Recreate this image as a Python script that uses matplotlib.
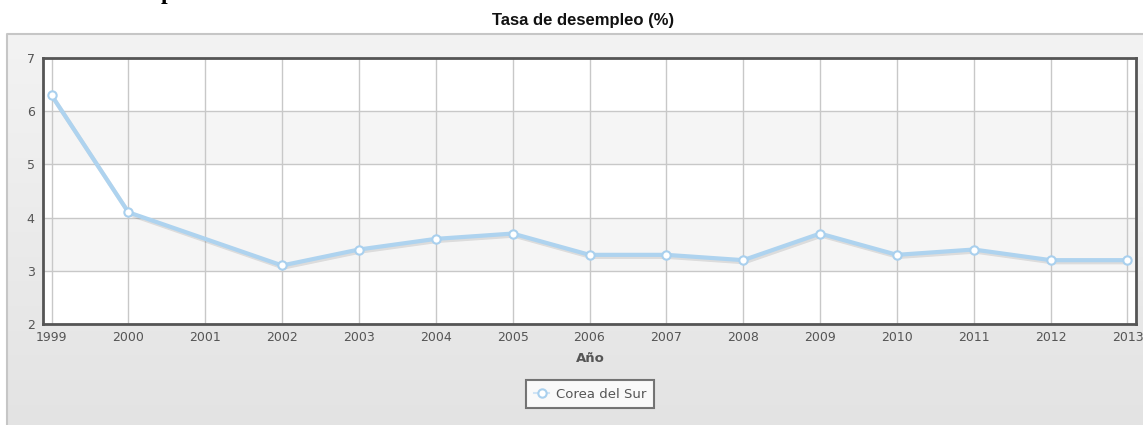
import numpy as np
import matplotlib
matplotlib.use("Agg")
import matplotlib.pyplot as plt
import matplotlib.patheffects as pe
from matplotlib.lines import Line2D

# data (2001 has no point)
years = [1999, 2000, 2002, 2003, 2004, 2005, 2006, 2007, 2008, 2009, 2010, 2011, 2012, 2013]
rate = [6.3, 4.1, 3.1, 3.4, 3.6, 3.7, 3.3, 3.3, 3.2, 3.7, 3.3, 3.4, 3.2, 3.2]
tick_years = list(range(1999, 2014))
y_ticks = [2, 3, 4, 5, 6, 7]
series_name = 'Corea del Sur'
title = 'Tasa de desempleo (%)'
xlabel = 'Año'

W, H = 1143, 425
fig = plt.figure(figsize=(W / 100, H / 100), dpi=100)
fig.patch.set_facecolor('white')

# background in pixel coords: gradient panel + clipped heading
bg = fig.add_axes([0, 0, 1, 1])
bg.axis('off')
grad = np.linspace(0, 1, 256).reshape(-1, 1)
cm = matplotlib.colors.LinearSegmentedColormap.from_list('g', ['#f3f3f3', '#e3e3e3'])
bg.imshow(grad, extent=[7, W + 5, H + 5, 34], cmap=cm, aspect='auto', zorder=0)
bg.plot([7, 7, W + 5], [H + 5, 34, 34], color='#c6c6c6', lw=1.5, zorder=1, clip_on=False)
bg.set_xlim(0, W)
bg.set_ylim(H, 0)
# heading above the chart, cut off by the top edge (only the descender shows)
bg.text(161, -1, 'p', family='Liberation Serif', weight='bold', fontsize=17,
        va='baseline', ha='left', color='black', clip_on=True)

# plot area
ax = fig.add_axes([43 / W, (H - 324) / H, (1136 - 43) / W, (324 - 58) / H])
ax.set_xlim(1998.889, 2013.111)
ax.set_ylim(2, 7)
ax.set_facecolor('white')
for lo, hi in [(3, 4), (5, 6)]:
    ax.axhspan(lo, hi, color='#f5f5f5', zorder=0, lw=0)
ax.set_xticks(tick_years)
ax.set_yticks(y_ticks)
ax.grid(True, color='#c8c8c8', lw=1, zorder=1)
ax.set_axisbelow(True)
for s in ax.spines.values():
    s.set_color('#555555')
    s.set_linewidth(2)
ax.tick_params(length=0, colors='#555555', labelsize=9, pad=5)
ax.tick_params(axis='y', pad=6)

ax.plot(years, rate, color='#aed3ef', lw=3, zorder=3, solid_capstyle='round',
        path_effects=[pe.SimpleLineShadow(offset=(1, -1.5), alpha=0.1, shadow_color='black'), pe.Normal()])
ax.plot(years, rate, ls='none', marker='o', ms=6, mfc='white', mec='#a9d0ee', mew=1.5,
        zorder=4, clip_on=False)

fig.text(583 / W, 1 - 20 / H, title, ha='center', va='center', fontsize=12,
         weight='bold', family='Liberation Sans', color='#111111')
fig.text(590 / W, 1 - 359 / H, xlabel, ha='center', va='center', fontsize=9.5,
         weight='bold', color='#555555')

handle = Line2D([], [], color='#cfe3f5', lw=1.5, marker='o', ms=6, mfc='white', mec='#a9d0ee', mew=1.5)
leg = fig.legend([handle], [series_name], loc='center', bbox_to_anchor=(590 / W, 1 - 394 / H),
                 fancybox=False, shadow=False, fontsize=9.5, handlelength=1.2, borderpad=0.6,
                 handletextpad=0.5, borderaxespad=0, labelcolor='#555555')
leg.get_frame().set_edgecolor('#555555')
leg.get_frame().set_linewidth(1.5)

fig.savefig('out.png', dpi=100)
